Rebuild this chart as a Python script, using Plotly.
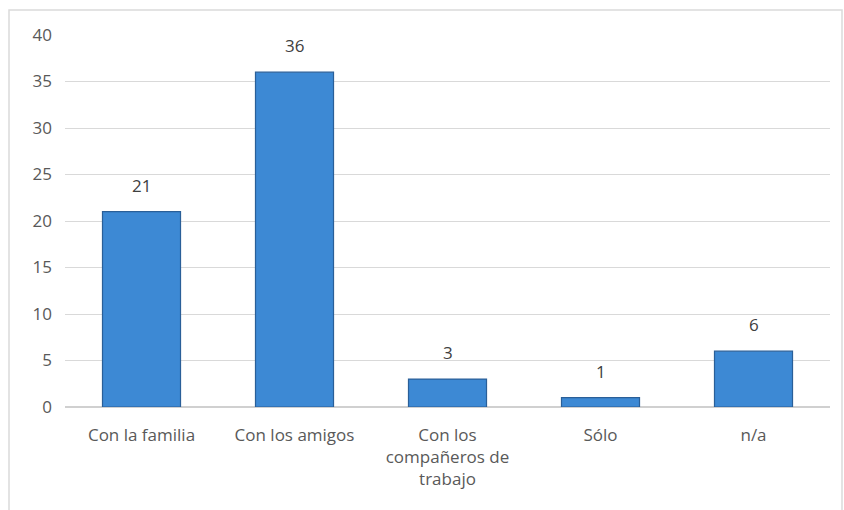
import plotly.graph_objects as go

categories = ["Con la familia", "Con los amigos", "Con los<br>compañeros de<br>trabajo", "Sólo", "n/a"]
values = [21, 36, 3, 1, 6]
y_ticks = [0, 5, 10, 15, 20, 25, 30, 35, 40]

fig = go.Figure()
fig.add_trace(go.Bar(
    x=categories, y=values,
    marker=dict(color="#3d89d4", line=dict(color="#2a5f98", width=1.2)),
    cliponaxis=False,
))
for c, v in zip(categories, values):
    fig.add_annotation(x=c, y=v, text=str(v), showarrow=False, yanchor="bottom",
                       yshift=13, font=dict(family="Open Sans", size=17, color="#404040"))

fig.update_layout(
    width=844, height=510,
    margin=dict(l=65, r=14, t=35, b=103),
    paper_bgcolor="white", plot_bgcolor="white",
    bargap=0.49,
    showlegend=False,
    font=dict(family="Open Sans", size=17, color="#595959"),
    shapes=[dict(type="rect", xref="paper", yref="paper",
                 x0=-0.0732, x1=1.0157, y0=-0.4, y1=1.0672,
                 line=dict(color="#dadada", width=1.5), layer="below")],
)
fig.update_xaxes(showgrid=False, showline=False, ticks="", ticklabelstandoff=16,
                 tickfont=dict(size=17, color="#595959"))
fig.update_yaxes(range=[0, 40], tickvals=y_ticks, showgrid=True, gridcolor="#d9d9d9",
                 gridwidth=1, zeroline=True, zerolinecolor="#d0d0d0", zerolinewidth=1.5,
                 ticks="", ticklabelstandoff=12,
                 tickfont=dict(size=17, color="#595959"))

fig.write_html("out.html")
